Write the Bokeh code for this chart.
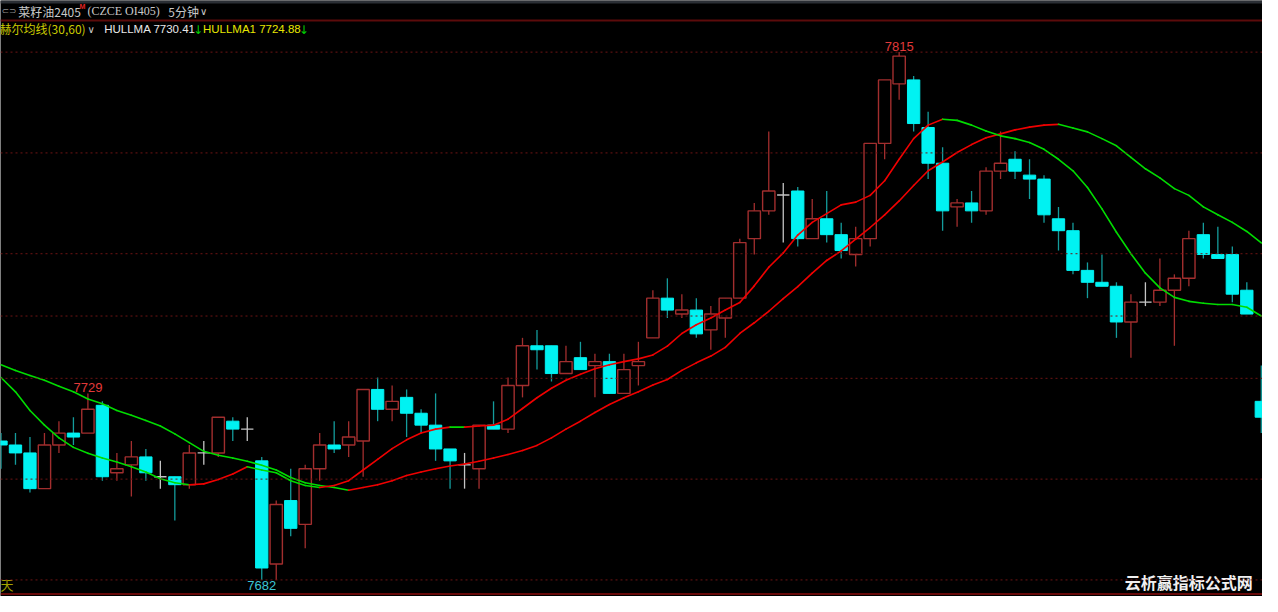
from bokeh.plotting import figure
from bokeh.models import Span, Range1d, BoxAnnotation
from bokeh.embed import file_html
from bokeh.resources import INLINE
from bokeh.core.properties import value

# ---------------- data (5-minute bars, OI405) ----------------
opens = [7717, 7716, 7714, 7705, 7716, 7719, 7719, 7726, 7709, 7711,
         7713, 7708, 7708, 7706, 7714, 7714, 7722, 7720, 7712, 7686,
         7702, 7696, 7710, 7716, 7716, 7717, 7730, 7725, 7728, 7724,
         7721, 7715, 7711, 7710, 7721, 7720, 7731, 7741, 7741, 7734,
         7738, 7736, 7737, 7729, 7736, 7743, 7753, 7749, 7750, 7745,
         7748, 7753, 7768, 7775, 7779, 7780, 7768, 7773, 7769, 7764,
         7768, 7792, 7807, 7808, 7796, 7787, 7776, 7777, 7775, 7785,
         7788, 7784, 7783, 7773, 7770, 7760, 7757, 7756, 7747, 7752,
         7752, 7755, 7758, 7769, 7764, 7764, 7755, 7727]
closes = [7716, 7714, 7705, 7716, 7719, 7718, 7725, 7708, 7710, 7713,
          7709, 7708, 7706, 7714, 7714, 7723, 7720, 7720, 7685, 7701,
          7695, 7710, 7716, 7715, 7718, 7730, 7725, 7727, 7724, 7721,
          7715, 7712, 7711, 7721, 7720, 7731, 7741, 7740, 7734, 7737,
          7735, 7737, 7729, 7735, 7737, 7753, 7750, 7750, 7744, 7749,
          7753, 7767, 7775, 7780, 7779, 7768, 7773, 7769, 7765, 7768,
          7792, 7808, 7814, 7797, 7787, 7775, 7777, 7775, 7785, 7787,
          7785, 7783, 7774, 7770, 7760, 7757, 7756, 7747, 7752, 7752,
          7755, 7758, 7768, 7764, 7763, 7754, 7749, 7723]
highs = [7719, 7719, 7718, 7719, 7722, 7723, 7729, 7727, 7714, 7717,
         7715, 7712, 7708, 7716, 7717, 7723, 7723, 7723, 7713, 7702,
         7710, 7711, 7719, 7722, 7722, 7730, 7733, 7731, 7730, 7725,
         7729, 7715, 7714, 7721, 7727, 7733, 7743, 7745, 7741, 7741,
         7742, 7739, 7739, 7739, 7742, 7755, 7758, 7754, 7753, 7751,
         7753, 7768, 7777, 7795, 7782, 7781, 7778, 7780, 7772, 7771,
         7792, 7808, 7815, 7809, 7800, 7791, 7778, 7780, 7786, 7795,
         7790, 7788, 7784, 7776, 7772, 7762, 7764, 7757, 7754, 7757,
         7763, 7759, 7770, 7772, 7771, 7766, 7757, 7736]
lows = [7710, 7711, 7704, 7705, 7714, 7716, 7719, 7707, 7707, 7703,
        7707, 7705, 7697, 7705, 7711, 7713, 7717, 7717, 7682, 7682,
        7693, 7690, 7707, 7714, 7713, 7708, 7722, 7722, 7718, 7719,
        7712, 7705, 7705, 7705, 7720, 7719, 7728, 7735, 7732, 7734,
        7735, 7728, 7729, 7729, 7731, 7743, 7748, 7748, 7743, 7740,
        7743, 7753, 7764, 7774, 7767, 7766, 7768, 7767, 7763, 7761,
        7766, 7788, 7803, 7795, 7783, 7770, 7771, 7772, 7774, 7783,
        7783, 7778, 7772, 7765, 7759, 7753, 7756, 7743, 7738, 7751,
        7751, 7741, 7756, 7763, 7763, 7752, 7749, 7719]
hullma = [7733.0, 7729.4, 7724.7, 7721.0, 7717.8, 7715.4, 7713.9, 7712.7, 7711.7, 7710.5,
          7709.2, 7707.5, 7706.5, 7706.0, 7706.2, 7707.3, 7708.7, 7710.5, 7709.7, 7709.0,
          7707.0, 7705.8, 7705.3, 7705.8, 7707.0, 7709.7, 7712.4, 7715.1, 7717.3, 7719.0,
          7720.0, 7720.5, 7720.5, 7720.8, 7721.0, 7722.5, 7725.2, 7727.9, 7730.3, 7732.3,
          7733.8, 7735.2, 7736.2, 7737.0, 7737.7, 7738.7, 7740.9, 7744.1, 7746.3, 7748.0,
          7750.0, 7751.9, 7756.1, 7760.8, 7764.4, 7768.9, 7772.1, 7774.3, 7776.5, 7777.2,
          7778.9, 7782.6, 7788.0, 7793.2, 7796.6, 7798.1, 7797.8, 7796.6, 7795.1, 7793.9,
          7793.2, 7792.2, 7790.5, 7788.0, 7785.1, 7780.9, 7775.5, 7769.6, 7764.2, 7759.3,
          7755.6, 7753.2, 7752.2, 7751.7, 7751.4, 7751.4, 7750.7, 7748.5]
hullma1 = [7736.2, 7734.8, 7733.5, 7732.3, 7730.8, 7729.4, 7727.6, 7726.4, 7724.7, 7723.5,
           7722.2, 7720.8, 7718.8, 7716.6, 7714.4, 7713.4, 7712.7, 7711.9, 7710.9, 7709.7,
           7707.8, 7706.5, 7705.8, 7705.3, 7704.6, 7705.3, 7706.0, 7707.0, 7708.3, 7709.2,
           7710.0, 7710.7, 7711.2, 7711.9, 7712.7, 7713.6, 7714.6, 7715.9, 7717.8, 7720.0,
           7722.0, 7724.2, 7726.2, 7727.9, 7729.4, 7731.1, 7732.5, 7734.8, 7736.7, 7738.4,
           7740.6, 7744.1, 7746.8, 7749.7, 7752.9, 7755.9, 7759.3, 7762.5, 7764.9, 7767.9,
           7770.8, 7774.0, 7777.5, 7781.4, 7785.1, 7787.3, 7789.7, 7791.7, 7793.4, 7794.4,
           7795.4, 7796.1, 7796.6, 7796.8, 7795.9, 7794.9, 7793.2, 7791.4, 7788.5, 7785.6,
           7783.3, 7780.6, 7778.9, 7776.0, 7774.0, 7772.1, 7769.8, 7766.9]
grid_levels = [7815, 7789.6, 7764.2, 7748.5, 7732.8, 7707.4, 7682]

# ---------------- layout helpers ----------------
W, H = 1262, 596
REF_W, REF_H = 1278, 612
BAR_PX, X0_PX = 14.67, 0.5
PX_PER_PT, TOP_PRICE, TOP_Y = 4.075, 7815, 53


def rx(X):
    return (X - X0_PX) / BAR_PX


def ry(Y):
    return TOP_PRICE - (Y - TOP_Y) / PX_PER_PT


UP_C = "#a22e2e"
DN_C = "#00f2f2"
DN_WICK = "#149c9c"
DOJI_C = "#c4c4c4"
RED = "#f00000"
GREEN = "#00dc00"

p = figure(width=W, height=H, x_range=Range1d(rx(0), rx(REF_W)),
           y_range=Range1d(ry(REF_H), ry(0)), output_backend="svg",
           toolbar_location=None, min_border=0, x_axis_location=None,
           y_axis_location=None, background_fill_color="black",
           border_fill_color="black", outline_line_color=None)
p.grid.visible = False

# grid lines
for lv in grid_levels:
    p.add_layout(Span(location=lv, dimension="width", line_color="#6e1414",
                      line_dash="2 3", line_width=1))

# header decorations
p.add_layout(BoxAnnotation(top=ry(0), bottom=ry(3), fill_color="#2b2f35",
                           fill_alpha=1, line_color=None))
p.add_layout(Span(location=ry(20.5), dimension="width", line_color="#5c0b0b", line_width=2))
p.add_layout(Span(location=ry(609.5), dimension="width", line_color="#8a0c0c", line_width=1.5))

n = len(opens)
idx = list(range(n))
bw = 0.85

up = [i for i in idx if closes[i] > opens[i]]
dn = [i for i in idx if closes[i] < opens[i]]
dj = [i for i in idx if closes[i] == opens[i]]

# wicks
for sel, col in ((up, UP_C), (dn, DN_WICK), (dj, DOJI_C)):
    p.segment(x0=sel, y0=[highs[i] for i in sel], x1=sel, y1=[lows[i] for i in sel],
              line_color=col, line_width=1.3)

# bodies
p.vbar(x=up, width=bw, top=[closes[i] for i in up], bottom=[opens[i] for i in up],
       fill_color="black", line_color=UP_C, line_width=1.4)
p.vbar(x=dn, width=bw, top=[opens[i] for i in dn], bottom=[closes[i] for i in dn],
       fill_color=DN_C, line_color=DN_C, line_width=1)
p.segment(x0=[i - bw / 2 for i in dj], y0=[opens[i] for i in dj],
          x1=[i + bw / 2 for i in dj], y1=[closes[i] for i in dj],
          line_color=DOJI_C, line_width=1.3)

# Hull MA lines, red when rising, green otherwise
for series in (hullma1, hullma):
    cols = [RED if series[k + 1] > series[k] else GREEN for k in range(n - 1)]
    p.segment(x0=idx[:-1], y0=series[:-1], x1=idx[1:], y1=series[1:],
              line_color=cols, line_width=1.6, line_cap="round")


def txt(X, Y, s, color, size, font="Noto Sans CJK SC", align="left",
        baseline="middle", style="normal"):
    p.text(x=[rx(X)], y=[ry(Y)], text=[s], text_color=color, text_font_size=size,
           text_font=value(font), text_align=align, text_baseline=baseline,
           text_font_style=style)


# extreme labels
imax = highs.index(max(highs))
imin = lows.index(min(lows))
ileft = max(range(0, imin), key=lambda k: highs[k])
LBL_FONT = value("Liberation Sans")
p.text(x=[imax, ileft], y=[highs[imax], highs[ileft]],
       text=[str(highs[imax]), str(highs[ileft])], text_color="#e23a3a",
       text_font_size="13px", text_font=LBL_FONT, text_align="center",
       text_baseline="bottom", y_offset=-1)
p.text(x=[imin], y=[lows[imin]], text=[str(lows[imin])], text_color="#3cc6d6",
       text_font_size="13px", text_font=LBL_FONT, text_align="center",
       text_baseline="top", y_offset=1)

# header row 1
txt(1, 11, "⊂⊃", "#8c8c8c", "9px", font="DejaVu Sans")
txt(18, 11, "菜籽油2405", "#c8c8c8", "12px")
txt(80, 6, "M", "#e02424", "7px", font="Liberation Sans", style="bold")
txt(88, 11, "(CZCE OI405)", "#c8c8c8", "12px", font="Liberation Serif")
txt(170, 11, "5分钟", "#c8c8c8", "12px")
txt(202, 11, "∨", "#c8c8c8", "10px", font="DejaVu Sans")

# header row 2
txt(-1, 29, "赫尔均线(30,60)", "#cccc00", "12px")
txt(88, 30, "∨", "#c8c8c8", "10px", font="DejaVu Sans")
txt(105, 29, "HULLMA 7730.41", "#e8e8e8", "11.5px", font="Liberation Sans")
txt(195, 30, "↓", "#00d000", "12px", font="DejaVu Sans")
txt(205, 29, "HULLMA1 7724.88", "#e6e600", "11.5px", font="Liberation Sans")
txt(302, 30, "↓", "#00d000", "12px", font="DejaVu Sans")

# footer
txt(0, 600, "天", "#a4a400", "13px")
txt(1268, 597, "云析赢指标公式网", "#f0f0f0", "16px", align="right", style="bold")

open("out.html", "w").write(file_html(p, INLINE))
